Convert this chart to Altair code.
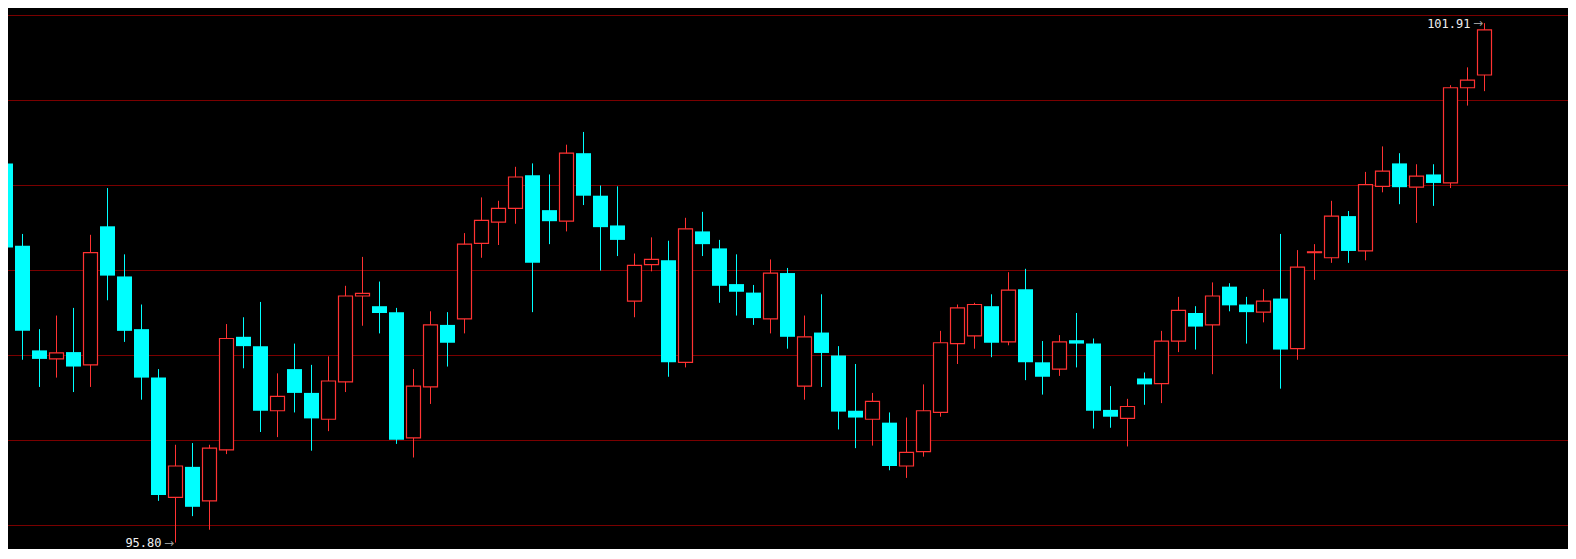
import altair as alt
import pandas as pd

opens = [100.26, 99.29, 98.06, 97.96, 98.04, 97.89, 99.52, 98.93, 98.31, 97.74,
         96.33, 96.69, 96.29, 96.89, 98.22, 98.11, 97.35, 97.84, 97.56, 97.25,
         97.69, 98.70, 98.58, 98.51, 97.03, 97.63, 98.36, 98.43, 99.32, 99.57,
         99.73, 100.12, 99.71, 99.58, 100.38, 99.88, 99.53, 98.64, 99.07, 99.12,
         97.92, 99.46, 99.26, 98.84, 98.74, 98.43, 98.97, 97.64, 98.27, 98.00,
         97.35, 97.25, 97.21, 96.70, 96.87, 97.33, 98.14, 98.23, 98.58, 98.16,
         98.78, 97.92, 97.84, 98.18, 98.14, 97.36, 97.26, 97.73, 97.67, 98.17,
         98.50, 98.36, 98.81, 98.60, 98.51, 98.67, 98.08, 99.21, 99.15, 99.64,
         99.23, 99.99, 100.26, 99.98, 100.13, 100.03, 101.15, 101.30]
highs = [100.46, 99.43, 98.31, 98.47, 98.56, 99.42, 99.97, 99.19, 98.60, 97.84,
         96.95, 96.97, 96.95, 98.37, 98.45, 98.63, 97.79, 98.14, 97.89, 97.99,
         98.82, 99.16, 98.87, 98.56, 97.84, 98.52, 98.51, 99.44, 99.86, 99.82,
         100.22, 100.26, 100.13, 100.48, 100.63, 100.00, 99.99, 99.20, 99.39, 99.35,
         99.62, 99.69, 99.36, 99.19, 98.83, 99.13, 99.03, 98.47, 98.72, 98.11,
         97.90, 97.56, 97.33, 97.27, 97.66, 98.29, 98.60, 98.62, 98.72, 98.98,
         99.02, 98.17, 98.24, 98.50, 98.20, 97.64, 97.49, 97.80, 98.29, 98.69,
         98.58, 98.86, 98.85, 98.69, 98.78, 99.43, 99.24, 99.31, 99.82, 99.70,
         100.16, 100.46, 100.38, 100.25, 100.25, 101.18, 101.39, 101.91]
lows = [98.86, 97.95, 97.63, 97.74, 97.57, 97.63, 98.65, 98.16, 97.48, 96.29,
        95.80, 96.11, 95.95, 96.84, 97.85, 97.10, 97.04, 97.33, 96.88, 97.11,
        97.57, 98.35, 98.26, 96.96, 96.80, 97.43, 97.87, 98.26, 99.15, 99.30,
        99.55, 98.51, 99.31, 99.46, 99.77, 99.00, 99.17, 98.45, 98.99, 97.75,
        97.86, 99.17, 98.62, 98.47, 98.36, 98.26, 98.08, 97.48, 97.63, 97.13,
        96.91, 96.94, 96.65, 96.56, 96.81, 97.28, 97.90, 98.08, 97.98, 98.12,
        97.71, 97.54, 97.76, 97.86, 97.14, 97.15, 96.93, 97.42, 97.44, 98.04,
        98.07, 97.78, 98.52, 98.14, 98.39, 97.61, 97.95, 98.89, 99.09, 99.09,
        99.12, 99.92, 99.78, 99.56, 99.76, 99.97, 100.94, 101.11]
closes = [99.27, 98.29, 97.96, 98.03, 97.87, 99.21, 98.94, 98.29, 97.74, 96.36,
          96.70, 96.22, 96.91, 98.20, 98.11, 97.35, 97.52, 97.56, 97.26, 97.70,
          98.70, 98.73, 98.50, 97.01, 97.64, 98.36, 98.15, 99.31, 99.59, 99.73,
          100.10, 99.09, 99.58, 100.38, 99.88, 99.51, 99.36, 99.06, 99.13, 97.92,
          99.49, 99.31, 98.82, 98.75, 98.44, 98.97, 98.22, 98.22, 98.03, 97.34,
          97.27, 97.46, 96.70, 96.86, 97.35, 98.15, 98.56, 98.60, 98.15, 98.77,
          97.92, 97.75, 98.16, 98.14, 97.35, 97.28, 97.40, 97.66, 98.17, 98.53,
          98.34, 98.70, 98.59, 98.51, 98.64, 98.07, 99.04, 99.22, 99.64, 99.23,
          100.01, 100.17, 99.98, 100.11, 100.03, 101.15, 101.24, 101.83]

label_idx = [87, 10]
label_val = [101.91, 95.80]
grid_levels = [96, 97, 98, 99, 100, 101, 102]

UP = "#ff3232"
DOWN = "#00ffff"

df = pd.DataFrame({"i": list(range(len(opens))), "open": opens, "high": highs,
                   "low": lows, "close": closes})
df["up"] = df["close"] >= df["open"]
labels = pd.DataFrame({"i": label_idx, "v": label_val})
grid = pd.DataFrame({"g": grid_levels})

W, H = 1560, 541
PXX, PXY = 17.0, 85.0
x0 = 2.5 / PXX
xs = alt.Scale(domain=[x0, x0 + W / PXX], nice=False, zero=False)
ys = alt.Scale(domain=[102 - (H - 7.5) / PXY, 102 + 7.5 / PXY], nice=False, zero=False)

base = alt.Chart(df)

grid_layer = alt.Chart(grid).mark_rule(color="#7a0000", strokeWidth=1, clip=True).encode(
    y=alt.Y("g:Q", scale=ys, axis=None),
    x=alt.value(0), x2=alt.value(W),
)

wicks_up = base.transform_filter("datum.up").mark_rule(color=UP, strokeWidth=1, clip=True).encode(
    x=alt.X("i:Q", scale=xs, axis=None),
    y=alt.Y("low:Q", scale=ys, axis=None), y2="high:Q",
)
wicks_dn = base.transform_filter("!datum.up").mark_rule(color=DOWN, strokeWidth=1, clip=True).encode(
    x=alt.X("i:Q", scale=xs, axis=None),
    y=alt.Y("low:Q", scale=ys, axis=None), y2="high:Q",
)

hw_up = 7.0 / PXX
hw_dn = 7.5 / PXX
bodies_up = base.transform_filter("datum.up").transform_calculate(
    xl=f"datum.i - {hw_up}", xr=f"datum.i + {hw_up}"
).mark_rect(fill="black", stroke=UP, strokeWidth=1.2, clip=True).encode(
    x=alt.X("xl:Q", scale=xs, axis=None), x2="xr:Q",
    y=alt.Y("open:Q", scale=ys, axis=None), y2="close:Q",
)
bodies_dn = base.transform_filter("!datum.up").transform_calculate(
    xl=f"datum.i - {hw_dn}", xr=f"datum.i + {hw_dn}"
).mark_rect(fill=DOWN, strokeWidth=0, clip=True).encode(
    x=alt.X("xl:Q", scale=xs, axis=None), x2="xr:Q",
    y=alt.Y("open:Q", scale=ys, axis=None), y2="close:Q",
)

lab_text = alt.Chart(labels).mark_text(
    align="right", baseline="middle", dx=-14, dy=0.5, color="#f0f0f0",
    font="DejaVu Sans Mono", fontSize=12,
).encode(
    x=alt.X("i:Q", scale=xs, axis=None),
    y=alt.Y("v:Q", scale=ys, axis=None),
    text=alt.Text("v:Q", format=".2f"),
)
lab_arrow = alt.Chart(labels).mark_text(
    align="center", baseline="middle", dx=-6.5, dy=0, color="#9a9a9a",
    font="DejaVu Sans", fontSize=12,
).encode(
    x=alt.X("i:Q", scale=xs, axis=None),
    y=alt.Y("v:Q", scale=ys, axis=None),
    text=alt.value("→"),
)

chart = alt.layer(grid_layer, wicks_up, wicks_dn, bodies_up, bodies_dn, lab_text, lab_arrow).properties(
    width=W, height=H, padding=0, background="black",
    autosize=alt.AutoSizeParams(type="none"),
).configure_view(strokeWidth=0)

chart.save("out.html", embed_options={"renderer": "svg", "actions": False})
